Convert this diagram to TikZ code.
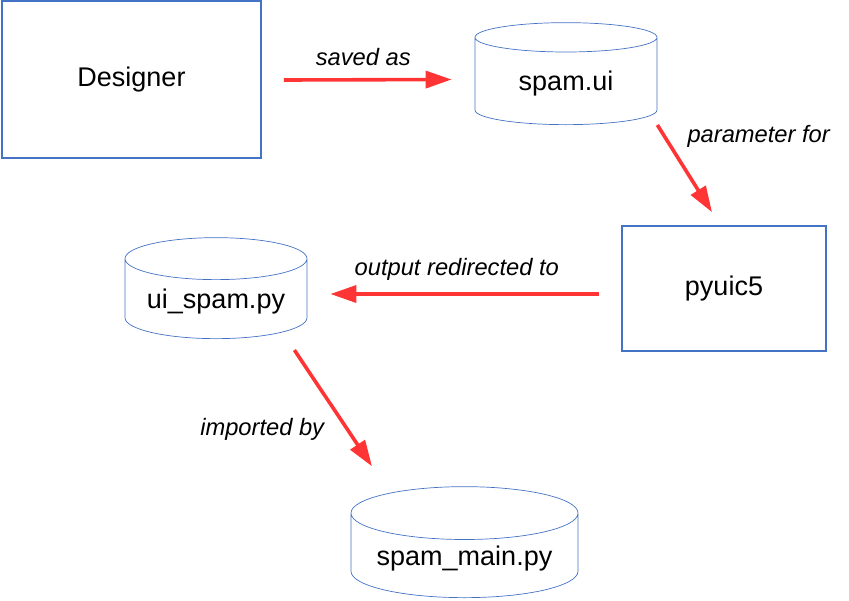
\documentclass[tikz,border=0pt]{standalone}
\usepackage{fontspec}
\setmainfont{Liberation Sans}
\usetikzlibrary{arrows.meta,shapes.geometric}
\definecolor{boxblue}{HTML}{4472C4}
\definecolor{flowred}{HTML}{FF3535}

\begin{document}
\begin{tikzpicture}[x=1pt,y=-1pt,
  tool/.style={draw=boxblue,line width=1.6pt,font=\fontsize{27}{31}\selectfont},
  file/.style={cylinder,shape border rotate=90,draw=boxblue,line width=0.7pt,
    aspect=0.29,anchor=south,font=\fontsize{27}{31}\selectfont},
  flow/.style={-{Triangle[length=26pt,width=17pt]},draw=flowred,line width=3.6pt},
  tag/.style={font=\fontsize{23.7}{27}\selectfont\itshape}]
  \useasboundingbox (0,0) rectangle (849,600);

  \node[tool,minimum width=259pt,minimum height=157pt] (designer) at (131.5,79.5) {Designer};
  \node[file,minimum width=182pt,minimum height=102pt] (spamui) at (566,125) {spam.ui};
  \node[tool,minimum width=204pt,minimum height=125pt] (pyuic) at (724,288.5) {pyuic5};
  \node[file,minimum width=182pt,minimum height=101pt] (uispam) at (216,339) {ui\_spam.py};
  \node[file,minimum width=227pt,minimum height=111pt] (spammain) at (464.5,598) {spam\_main.py};

  \draw[flow] ([shift={(22,0.5)}]designer.east) -- ([shift={(-23,0)}]designer.east -| spamui.west)
    node[tag,midway,shift={(-4.5,-23)}] (savedas) {saved as};
  \draw[flow] (spamui.south -| spamui.east) -- ([shift={(-12,-13)}]pyuic.north)
    node[tag,midway,shift={(74,-32)}] (paramfor) {parameter for};
  \draw[flow] ([shift={(-22,5.5)}]pyuic.west) -- ([shift={(23,5.5)}]pyuic.west -| uispam.east)
    node[tag,midway,shift={(-8,-25)}] (redirect) {output redirected to};
  \draw[flow] ([shift={(-13,11)}]uispam.south -| uispam.east) -- ([shift={(-92.5,-20)}]spammain.north)
    node[tag,midway,shift={(-71,21.5)}] (importby) {imported by};
\end{tikzpicture}
\end{document}
